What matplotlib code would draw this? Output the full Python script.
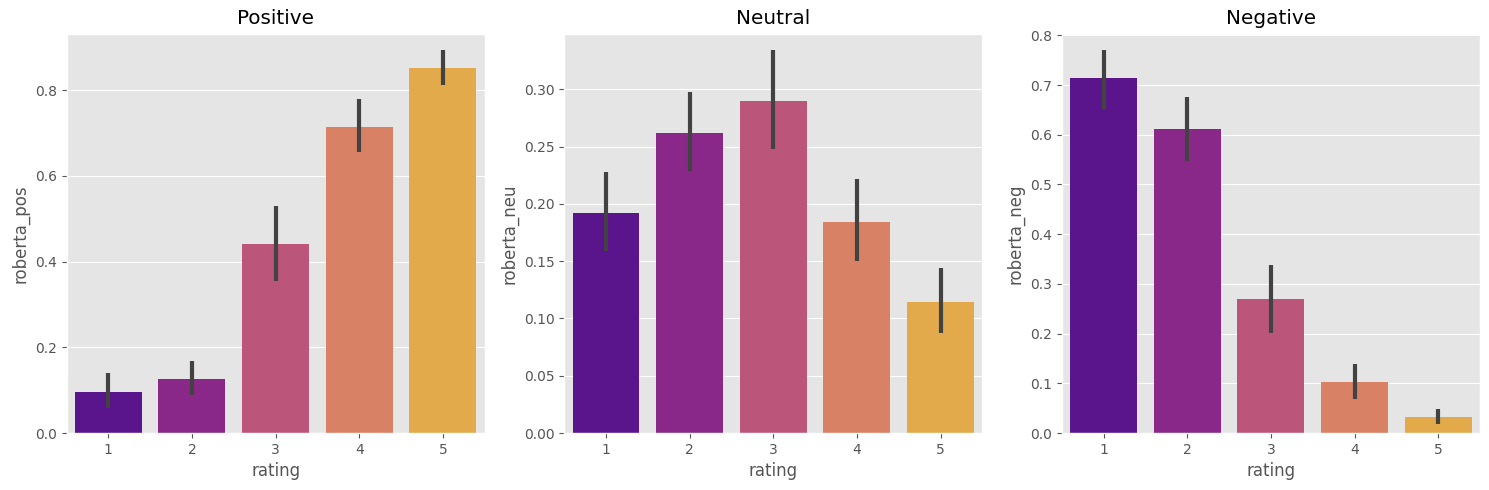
# Sentiment scores by rating, three panels
import matplotlib
matplotlib.use('Agg')
import matplotlib.pyplot as plt
import numpy as np

plt.style.use('ggplot')

ratings = [1, 2, 3, 4, 5]
colors = ['#5a148c', '#8a288a', '#bb567a', '#d98165', '#e2aa4a']

pos_vals = [0.095, 0.1255, 0.441, 0.714, 0.852]
pos_low = [0.059, 0.088, 0.355, 0.657, 0.8135]
pos_high = [0.141, 0.167, 0.531, 0.779, 0.894]

neu_vals = [0.192, 0.262, 0.290, 0.184, 0.114]
neu_low = [0.159, 0.229, 0.248, 0.150, 0.087]
neu_high = [0.228, 0.298, 0.334, 0.222, 0.144]

neg_vals = [0.714, 0.612, 0.270, 0.103, 0.032]
neg_low = [0.652, 0.548, 0.202, 0.069, 0.019]
neg_high = [0.771, 0.676, 0.338, 0.139, 0.048]

panels = [
    ('Positive', 'roberta_pos', pos_vals, pos_low, pos_high, 0.9315),
    ('Neutral', 'roberta_neu', neu_vals, neu_low, neu_high, 0.3483),
    ('Negative', 'roberta_neg', neg_vals, neg_low, neg_high, 0.8027),
]

fig, axs = plt.subplots(1, 3, figsize=(14.89, 4.9), dpi=100)

for ax, (title, ylabel, vals, low, high, ytop) in zip(axs, panels):
    x = np.arange(len(ratings))
    ax.bar(x, vals, width=0.8, color=colors)
    # confidence interval lines on top of the bars
    ax.vlines(x, low, high, color='#424242', linewidth=3, zorder=3)
    ax.set_xticks(x)
    ax.set_xticklabels(ratings)
    ax.set_xlim(-0.5, 4.5)
    ax.set_ylim(0, ytop)
    ax.set_title(title, pad=7)
    ax.set_xlabel('rating')
    ax.set_ylabel(ylabel)
    ax.grid(axis='x', visible=False)

axs[0].set_yticks([0.0, 0.2, 0.4, 0.6, 0.8])
axs[1].set_yticks([0.0, 0.05, 0.10, 0.15, 0.20, 0.25, 0.30])
axs[1].set_yticklabels(['0.00', '0.05', '0.10', '0.15', '0.20', '0.25', '0.30'])
axs[2].set_yticks([0.0, 0.1, 0.2, 0.3, 0.4, 0.5, 0.6, 0.7, 0.8])

fig.subplots_adjust(left=66.5/1489, right=1480/1489, top=1-34/490, bottom=1-433/490, wspace=0.1901)
plt.savefig('out.png', dpi=100)
